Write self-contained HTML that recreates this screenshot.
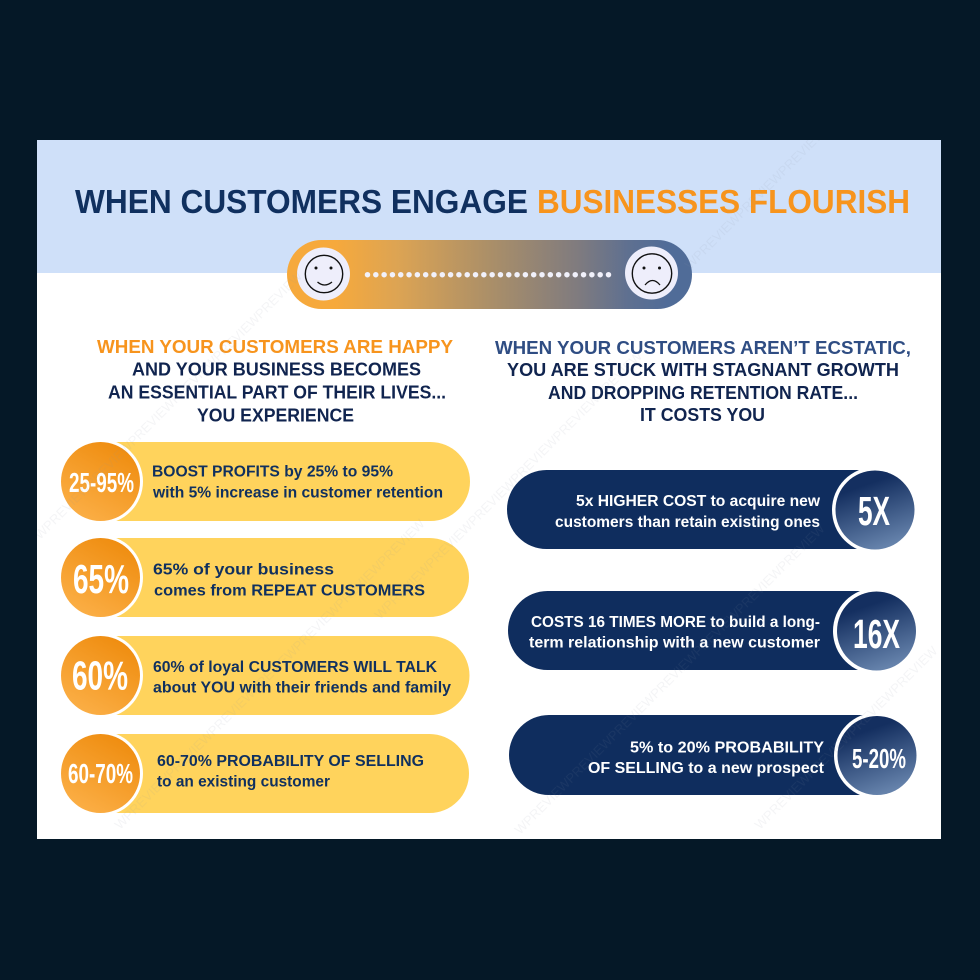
<!DOCTYPE html>
<html>
<head>
<meta charset="utf-8">
<title>When Customers Engage Businesses Flourish</title>
<style>
html,body{margin:0;padding:0;background:#051827;width:980px;height:980px;overflow:hidden}
svg{display:block}
text{font-family:"Liberation Sans",sans-serif;font-weight:700}
.t{font-size:15.5px}
.h{font-size:18.300px}
.w{font-size:13px;font-weight:400;fill:#8a94a3;opacity:.09}
</style>
</head>
<body>
<svg width="980" height="980" viewBox="0 0 980 980" xmlns="http://www.w3.org/2000/svg">
<defs>
<linearGradient id="cap" x1="0" x2="1" y1="0" y2="0">
<stop offset="0.12" stop-color="#f6a93c"/>
<stop offset="0.27" stop-color="#dda453"/>
<stop offset="0.5" stop-color="#ab8f68"/>
<stop offset="0.72" stop-color="#7f7b7f"/>
<stop offset="0.84" stop-color="#5f7090"/>
<stop offset="0.94" stop-color="#506c98"/>
</linearGradient>
<linearGradient id="or" x1="0.75" y1="0.05" x2="0.25" y2="0.95">
<stop offset="0" stop-color="#ef8d10"/>
<stop offset="1" stop-color="#fbae45"/>
</linearGradient>
<linearGradient id="bl" x1="0.35" y1="0.1" x2="0.65" y2="0.95">
<stop offset="0.1" stop-color="#142f60"/>
<stop offset="1" stop-color="#6582ab"/>
</linearGradient>
<clipPath id="panel"><rect x="37" y="140" width="904" height="699"/></clipPath>
</defs>

<rect x="37" y="140" width="904" height="699" fill="#ffffff"/>
<rect x="37" y="140" width="904" height="133" fill="#cfe0f9"/>

<text x="75" y="213" font-size="33" fill="#10305f" textLength="453" lengthAdjust="spacingAndGlyphs">WHEN CUSTOMERS ENGAGE</text>
<text x="537" y="213" font-size="33" fill="#f7941d" textLength="373" lengthAdjust="spacingAndGlyphs">BUSINESSES FLOURISH</text>

<!-- Capsule -->
<rect x="287" y="240" width="405" height="69" rx="34.5" fill="url(#cap)"/>
<circle cx="323.500" cy="274" r="26.500" fill="#eeeefb"/>
<circle cx="651.500" cy="273" r="26.500" fill="#eeeefb"/>
<circle cx="324" cy="274" r="18.700" fill="none" stroke="#111" stroke-width="1.400"/>
<circle cx="316" cy="268" r="1.500" fill="#111"/>
<circle cx="331" cy="268" r="1.500" fill="#111"/>
<path d="M317.500 282 Q324.500 288 332 282" fill="none" stroke="#111" stroke-width="1.300"/>
<circle cx="652" cy="273.500" r="19.700" fill="none" stroke="#111" stroke-width="1.400"/>
<circle cx="644" cy="268" r="1.500" fill="#111"/>
<circle cx="659.500" cy="268" r="1.500" fill="#111"/>
<path d="M645 285 Q652.500 276 660 285" fill="none" stroke="#111" stroke-width="1.300"/>
<line x1="367.500" y1="274.700" x2="608.500" y2="274.700" stroke="#f1f1fb" stroke-width="5.500" stroke-linecap="round" stroke-dasharray="0 8.31"/>

<!-- Left headings -->
<text class="h" x="97" y="353" fill="#f7941d" textLength="356" lengthAdjust="spacingAndGlyphs">WHEN YOUR CUSTOMERS ARE HAPPY</text>
<text class="h" x="132" y="375.500" fill="#10244f" textLength="289" lengthAdjust="spacingAndGlyphs">AND YOUR BUSINESS BECOMES</text>
<text class="h" x="108" y="398.500" fill="#10244f" textLength="338" lengthAdjust="spacingAndGlyphs">AN ESSENTIAL PART OF THEIR LIVES...</text>
<text class="h" x="197" y="421.500" fill="#10244f" textLength="157" lengthAdjust="spacingAndGlyphs">YOU EXPERIENCE</text>

<!-- Right headings -->
<text class="h" x="495" y="354" fill="#2f4d83" textLength="416" lengthAdjust="spacingAndGlyphs">WHEN YOUR CUSTOMERS AREN’T ECSTATIC,</text>
<text class="h" x="507" y="376" fill="#10244f" textLength="392" lengthAdjust="spacingAndGlyphs">YOU ARE STUCK WITH STAGNANT GROWTH</text>
<text class="h" x="548" y="399" fill="#10244f" textLength="310" lengthAdjust="spacingAndGlyphs">AND DROPPING RETENTION RATE...</text>
<text class="h" x="640" y="421" fill="#10244f" textLength="125" lengthAdjust="spacingAndGlyphs">IT COSTS YOU</text>

<!-- Left pills -->
<g fill="#ffd35c">
<path d="M105 442H430.500a39.500 39.500 0 0 1 0 79H105z"/>
<path d="M105 538H429.500a39.500 39.500 0 0 1 0 79H105z"/>
<path d="M105 636H430a39.500 39.500 0 0 1 0 79H105z"/>
<path d="M105 734H429.500a39.500 39.500 0 0 1 0 79H105z"/>
</g>
<g fill="#ffffff">
<circle cx="100.500" cy="481.500" r="42.500"/>
<circle cx="100.500" cy="577.500" r="42.500"/>
<circle cx="100.500" cy="675.500" r="42.500"/>
<circle cx="100.500" cy="773.500" r="42.500"/>
</g>
<g fill="url(#or)">
<circle cx="100.500" cy="481.500" r="39.500"/>
<circle cx="100.500" cy="577.500" r="39.500"/>
<circle cx="100.500" cy="675.500" r="39.500"/>
<circle cx="100.500" cy="773.500" r="39.500"/>
</g>
<g fill="#ffffff">
<text x="69" y="492" font-size="28" textLength="65" lengthAdjust="spacingAndGlyphs">25-95%</text>
<text x="73" y="593" font-size="41" textLength="56" lengthAdjust="spacingAndGlyphs">65%</text>
<text x="72" y="689.500" font-size="41" textLength="56" lengthAdjust="spacingAndGlyphs">60%</text>
<text x="68" y="783" font-size="28" textLength="65" lengthAdjust="spacingAndGlyphs">60-70%</text>
</g>
<g fill="#10305f">
<text class="t" x="152" y="476.500" textLength="241" lengthAdjust="spacingAndGlyphs">BOOST PROFITS by 25% to 95%</text>
<text class="t" x="153" y="497.500" textLength="290" lengthAdjust="spacingAndGlyphs">with 5% increase in customer retention</text>
<text class="t" x="153" y="574.500" textLength="181" lengthAdjust="spacingAndGlyphs">65% of your business</text>
<text class="t" x="154" y="595.500" textLength="271" lengthAdjust="spacingAndGlyphs">comes from REPEAT CUSTOMERS</text>
<text class="t" x="153" y="672" textLength="284" lengthAdjust="spacingAndGlyphs">60% of loyal CUSTOMERS WILL TALK</text>
<text class="t" x="153" y="692.500" textLength="298" lengthAdjust="spacingAndGlyphs">about YOU with their friends and family</text>
<text class="t" x="157" y="766" textLength="267" lengthAdjust="spacingAndGlyphs">60-70% PROBABILITY OF SELLING</text>
<text class="t" x="157" y="786.500" textLength="173" lengthAdjust="spacingAndGlyphs">to an existing customer</text>
</g>

<!-- Right pills -->
<g fill="#0f2d5e">
<path d="M870 470H546.500a39.500 39.500 0 0 0 0 79H870z"/>
<path d="M870 591H547.500a39.500 39.500 0 0 0 0 79H870z"/>
<path d="M870 715H549a40 40 0 0 0 0 80H870z"/>
</g>
<g fill="#ffffff">
<circle cx="875" cy="510" r="43"/>
<circle cx="876" cy="631" r="43"/>
<circle cx="877" cy="755.500" r="43"/>
</g>
<g fill="url(#bl)">
<circle cx="875" cy="510" r="39.500"/>
<circle cx="876.500" cy="631" r="39.500"/>
<circle cx="877" cy="755.500" r="39.500"/>
</g>
<g fill="#ffffff">
<text x="858" y="525" font-size="41" textLength="32" lengthAdjust="spacingAndGlyphs">5X</text>
<text x="853" y="648" font-size="41" textLength="47" lengthAdjust="spacingAndGlyphs">16X</text>
<text x="852" y="768" font-size="28" textLength="54" lengthAdjust="spacingAndGlyphs">5-20%</text>
<text class="t" x="576" y="506" textLength="244" lengthAdjust="spacingAndGlyphs">5x HIGHER COST to acquire new</text>
<text class="t" x="555" y="527" textLength="265" lengthAdjust="spacingAndGlyphs">customers than retain existing ones</text>
<text class="t" x="531" y="627" textLength="289" lengthAdjust="spacingAndGlyphs">COSTS 16 TIMES MORE to build a long-</text>
<text class="t" x="529" y="647.500" textLength="291" lengthAdjust="spacingAndGlyphs">term relationship with a new customer</text>
<text class="t" x="630" y="752.500" textLength="194" lengthAdjust="spacingAndGlyphs">5% to 20% PROBABILITY</text>
<text class="t" x="588" y="773" textLength="236" lengthAdjust="spacingAndGlyphs">OF SELLING to a new prospect</text>
</g>

<!-- Faint diagonal watermark -->
<g clip-path="url(#panel)">
<text class="w" transform="rotate(-45 40 540)" x="40" y="540">WPREVIEWPREVIEWPREVIEWPREVIEWPREVIEWPREVIEW</text>
<text class="w" transform="rotate(-45 120 830)" x="120" y="830">WPREVIEWPREVIEWPREVIEWPREVIEWPREVIEWPREVIEWPREVIEW</text>
<text class="w" transform="rotate(-45 380 620)" x="380" y="620">WPREVIEWPREVIEWPREVIEWPREVIEWPREVIEWPREVIEW</text>
<text class="w" transform="rotate(-45 520 835)" x="520" y="835">WPREVIEWPREVIEWPREVIEWPREVIEWPREVIEWPREVIEWPREVIEW</text>
<text class="w" transform="rotate(-45 690 270)" x="690" y="270">WPREVIEWPREVIEWPREVIEW</text>
<text class="w" transform="rotate(-45 760 830)" x="760" y="830">WPREVIEWPREVIEWPREVIEWPREVIEW</text>
</g>
</svg>
</body>
</html>
